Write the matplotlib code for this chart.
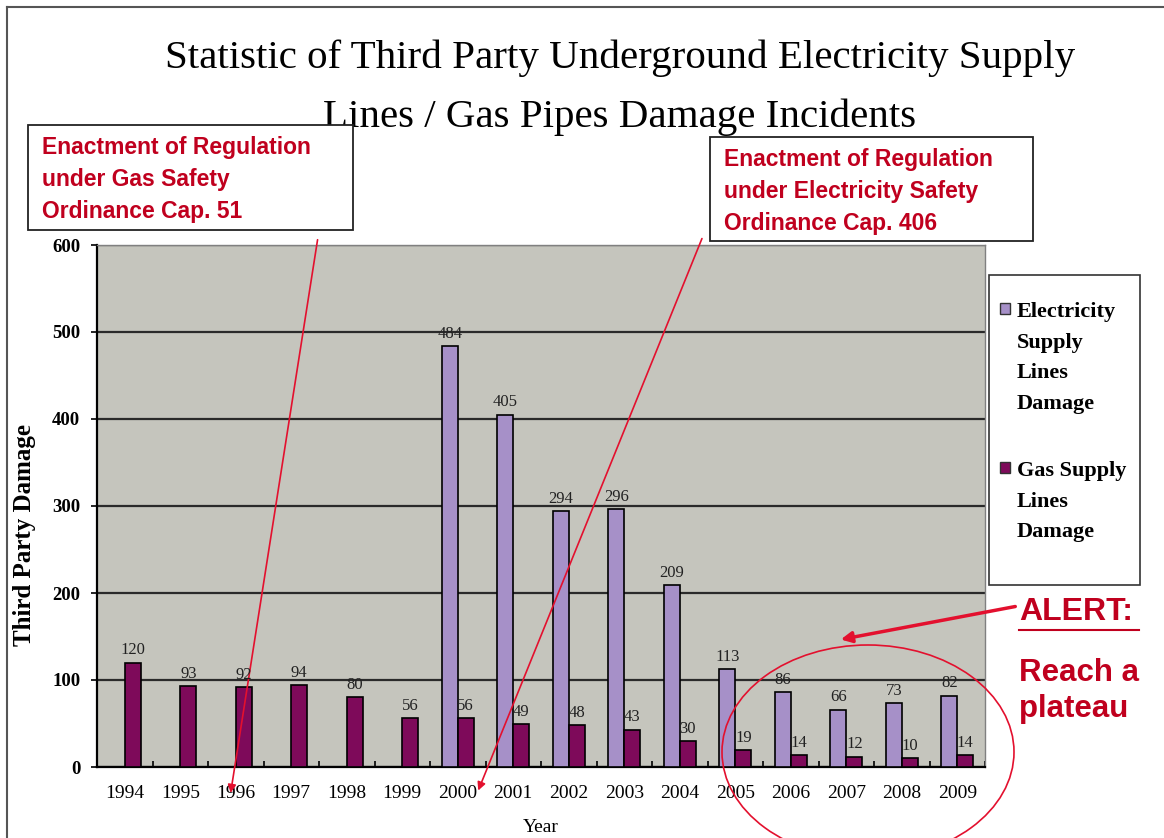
import numpy as np
import matplotlib as mpl
mpl.use("Agg")
from matplotlib import pyplot as plt
from matplotlib.patches import Rectangle, Ellipse
from matplotlib.lines import Line2D

# data
years       = ['1994', '1995', '1996', '1997', '1998', '1999', '2000', '2001',
               '2002', '2003', '2004', '2005', '2006', '2007', '2008', '2009']
elec        = [None, None, None, None, None, None, 484, 405, 294, 296, 209, 113, 86, 66, 73, 82]
gas         = [120, 93, 92, 94, 80, 56, 56, 49, 48, 43, 30, 19, 14, 12, 10, 14]
series      = ['Electricity\nSupply\nLines\nDamage', 'Gas Supply\nLines\nDamage']
title_lines = ['Statistic of Third Party Underground Electricity Supply',
               'Lines / Gas Pipes Damage Incidents']
note_gas    = 'Enactment of Regulation\nunder Gas Safety\nOrdinance Cap. 51'
note_elec   = 'Enactment of Regulation\nunder Electricity Safety\nOrdinance Cap. 406'

W, H        = 1164, 838
c_elec      = '#A690C8'
c_gas       = '#7E0A5A'
c_red       = '#C0001E'
c_line      = '#E3102E'
serif       = 'Liberation Serif'
sans        = 'Liberation Sans'

def fx(x):
    return x/W

def fy(y):
    return 1. - y/H

fig = plt.figure(figsize=(W/100., H/100.), dpi=100)
fig.patch.set_facecolor('white')

# outer frame (top and left only visible)
fig.add_artist(Line2D([fx(7), fx(W)], [fy(7), fy(7)], color='#555555', lw=1.5, transform=fig.transFigure))
fig.add_artist(Line2D([fx(7), fx(7)], [fy(7), fy(H)], color='#555555', lw=1.5, transform=fig.transFigure))

ax = fig.add_axes([fx(97), fy(767), (985-97)/W, (767-245)/H])
ax.set_facecolor('#C5C5BD')

x   = np.arange(len(years))
bw  = 0.29
e   = np.array([np.nan if v is None else v for v in elec], dtype=float)
g   = np.array(gas, dtype=float)
m   = ~np.isnan(e)

ax.bar(x[m]-bw/2, e[m], bw, color=c_elec, edgecolor='black', lw=1.2, zorder=3)
ax.bar(x+bw/2, g, bw, color=c_gas, edgecolor='black', lw=1.2, zorder=3)

lab_kw = dict(ha='center', va='bottom', textcoords='offset points', xytext=(0, 3),
              fontsize=12, family=serif, color='#222222', zorder=4)
for xi, v in zip(x[m], e[m]):
    ax.annotate('{:d}'.format(int(v)), (xi-bw/2, v), **lab_kw)
for xi, v in zip(x, g):
    ax.annotate('{:d}'.format(int(v)), (xi+bw/2, v), **lab_kw)

ax.set_xlim(-0.5, len(years)-0.5)
ax.set_ylim(0, 600)
ax.set_yticks(np.arange(0, 601, 100))
ax.yaxis.grid(True, color='#2a2a2a', lw=1.6, zorder=1)
ax.set_axisbelow(True)

ax.set_xticks(x)
ax.set_xticklabels(years, family=serif, fontsize=14)
ax.set_xticks(np.arange(-0.5, len(years), 1), minor=True)
ax.tick_params(axis='x', which='major', length=0, pad=13)
ax.tick_params(axis='x', which='minor', length=4, direction='in', width=1.2)
ax.tick_params(axis='y', length=4, width=1.2, pad=8)
for t in ax.get_yticklabels():
    t.set_family(serif)
    t.set_fontweight('bold')
    t.set_fontsize(13.5)

for s in ['left', 'bottom']:
    ax.spines[s].set_color('black')
    ax.spines[s].set_linewidth(1.6)
for s in ['top', 'right']:
    ax.spines[s].set_color('#808080')
    ax.spines[s].set_linewidth(1.0)

ax.set_xlabel('Year', family=serif, fontsize=14, labelpad=12)
fig.text(fx(25), fy(535), 'Third Party Damage', rotation=90, ha='center', va='center',
         family=serif, fontweight='bold', fontsize=18)

# title
fig.text(fx(620), fy(58), title_lines[0], ha='center', va='center', family=serif, fontsize=29.5)
fig.text(fx(620), fy(117), title_lines[1], ha='center', va='center', family=serif, fontsize=29.5)

# legend drawn by hand so the swatch sits on the first text line
fig.add_artist(Rectangle((fx(989), fy(585)), (1140-989)/W, (585-275)/H, transform=fig.transFigure,
                         facecolor='white', edgecolor='#333333', lw=1.2, zorder=5))
for lab, col, ytop in zip(series, [c_elec, c_gas], [303, 462]):
    fig.add_artist(Rectangle((fx(1000), fy(ytop+11)), 10/W, 11/H, transform=fig.transFigure,
                             facecolor=col, edgecolor='#333333', lw=1.0, zorder=6))
    fig.text(fx(1017), fy(ytop-1), lab, ha='left', va='top', family=serif, fontweight='bold',
             fontsize=16, linespacing=1.7, zorder=6)

# regulation notes with arrows
for (x0, y0, x1, y1), txt in zip([(28, 125, 353, 230), (710, 137, 1033, 241)], [note_gas, note_elec]):
    fig.add_artist(Rectangle((fx(x0), fy(y1)), (x1-x0)/W, (y1-y0)/H, transform=fig.transFigure,
                             facecolor='white', edgecolor='#222222', lw=1.3, zorder=5))
    fig.text(fx(x0+14), fy(y0+11), txt, ha='left', va='top', family=sans, fontweight='bold',
             fontsize=16.5, color=c_red, linespacing=1.5, zorder=6)

arr_kw = dict(arrowstyle='-|>', color=c_line, lw=1.2, mutation_scale=12)
ax.annotate('', xy=(2-0.1, -0.055), xycoords=('data', 'axes fraction'),
            xytext=(fx(318), fy(237)), textcoords='figure fraction', arrowprops=arr_kw,
            annotation_clip=False)
ax.annotate('', xy=(6+0.35, -0.05), xycoords=('data', 'axes fraction'),
            xytext=(fx(703), fy(236)), textcoords='figure fraction', arrowprops=arr_kw,
            annotation_clip=False)

# alert
fig.text(fx(1019), fy(612), 'ALERT:', ha='left', va='center', family=sans, fontweight='bold',
         fontsize=23, color=c_red)
fig.add_artist(Line2D([fx(1019), fx(1139)], [fy(630), fy(630)], color=c_red, lw=1.5,
                      transform=fig.transFigure))
fig.text(fx(1019), fy(691), 'Reach a\nplateau', ha='left', va='center', family=sans, fontweight='bold',
         fontsize=22.5, color=c_red, linespacing=1.25)
ax.annotate('', xy=(fx(838), fy(640)), xycoords='figure fraction',
            xytext=(fx(1018), fy(606)), textcoords='figure fraction',
            arrowprops=dict(arrowstyle='-|>', color=c_line, lw=2.5, mutation_scale=16),
            annotation_clip=False)
fig.add_artist(Ellipse((fx(868), fy(752)), 292/W, 214/H, transform=fig.transFigure,
                       facecolor='none', edgecolor=c_line, lw=1.2, zorder=7))

fig.savefig('out.png', dpi=100)
